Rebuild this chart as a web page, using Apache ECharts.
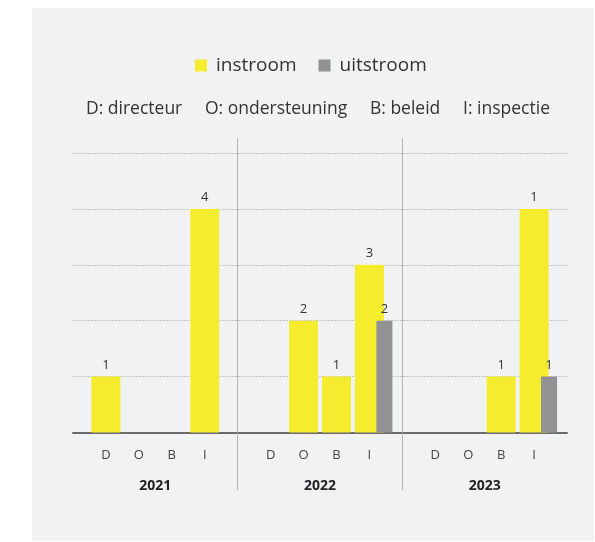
<!DOCTYPE html>
<html>
<head>
<meta charset="utf-8">
<script src="https://cdn.jsdelivr.net/npm/echarts@6/dist/echarts.min.js"></script>
<style>
  html, body { margin: 0; padding: 0; background: #fff; }
  #main { width: 595px; height: 542px; }
</style>
</head>
<body>
<div id="main"></div>
<script>
// data
var years = ['2021', '2022', '2023'];
var roles = ['D', 'O', 'B', 'I'];
var keyLabels = ['D: directeur', 'O: ondersteuning', 'B: beleid', 'I: inspectie'];
// per year: D, O, B, I
var instroom = [1, null, null, 4,   null, 2, 1, 3,   null, null, 1, 4];
var uitstroom = [null, null, null, null,   null, null, null, 2,   null, null, null, 1];
// labels as printed above the bars
var instroomLabels = ['1', '', '', '4',   '', '2', '1', '3',   '', '', '1', '1'];

var font = '"Open Sans", "Noto Sans", sans-serif';

// one empty slot before each year and one at the end, so the year borders fall on a slot
function pad(arr, empty) {
    var out = [];
    for (var g = 0; g < years.length; g++) {
        out.push(empty);
        for (var i = 0; i < roles.length; i++) {
            var v = arr[g * roles.length + i];
            out.push(v == null ? empty : v);
        }
    }
    out.push(empty);
    return out;
}
var cats = pad(roles.concat(roles, roles), '');
var instData = pad(instroom, '-');
var uitData = pad(uitstroom, '-');
var instLab = pad(instroomLabels, '');
var emptyData = pad([], '-');

function isBorder(idx) {
    return idx === 5 || idx === 10;
}

var myChart = echarts.init(document.getElementById('main'));

var option = {
    backgroundColor: '#fff',
    textStyle: { fontFamily: font },
    graphic: [{
        type: 'rect',
        left: 32, top: 8,
        shape: { width: 562, height: 533 },
        style: { fill: '#f1f2f4' },
        z: -10
    }],
    title: {
        text: keyLabels.join('     '),
        left: 86,
        top: 100,
        padding: 0,
        textStyle: { fontFamily: font, fontSize: 17.5, fontWeight: 'normal', color: '#333' }
    },
    legend: {
        data: ['instroom', 'uitstroom'],
        left: 195,
        top: 56,
        padding: 0,
        icon: 'rect',
        itemWidth: 12,
        itemHeight: 12,
        itemGap: 22,
        textStyle: { fontFamily: font, fontSize: 19, color: '#333', padding: [0, 0, 0, 4] }
    },
    grid: { left: 73, right: 28, top: 153, bottom: 109.5 },
    xAxis: [
        {
            type: 'category',
            data: cats,
            boundaryGap: false,
            position: 'bottom',
            axisLine: { lineStyle: { color: '#6b6b6b', width: 2 } },
            axisTick: { show: true, interval: isBorder, length: 58, lineStyle: { color: '#b5b5b5', width: 1 } },
            axisLabel: { interval: 0, margin: 16, color: '#444', fontSize: 13, fontFamily: font },
            splitLine: { show: true, interval: isBorder, lineStyle: { color: '#b5b5b5', width: 1 } }
        },
        {
            type: 'category',
            data: cats,
            boundaryGap: false,
            position: 'top',
            axisLine: { show: false },
            axisTick: { show: true, interval: isBorder, length: 15, lineStyle: { color: '#b5b5b5', width: 1 } },
            axisLabel: { show: false },
            splitLine: { show: false }
        },
        {
            type: 'category',
            data: years,
            boundaryGap: true,
            position: 'bottom',
            axisLine: { show: false },
            axisTick: { show: false },
            axisLabel: { margin: 47, color: '#222', fontSize: 14, fontWeight: 'bold', fontFamily: font },
            splitLine: { show: false }
        },
        {
            type: 'category',
            data: cats,
            boundaryGap: false,
            position: 'bottom',
            show: false
        }
    ],
    yAxis: {
        type: 'value',
        min: 0,
        max: 5,
        interval: 1,
        axisLabel: { show: false },
        axisLine: { show: false },
        axisTick: { show: false },
        splitLine: { lineStyle: { color: '#c4c4c4', type: [2, 1], width: 1 } }
    },
    series: [
        {
            name: 'instroom',
            type: 'bar',
            xAxisIndex: 0,
            barWidth: 29,
            itemStyle: { color: '#f6ec2e' },
            label: {
                show: true,
                position: 'top',
                distance: 5,
                color: '#333',
                fontSize: 13,
                fontFamily: font,
                formatter: function (p) { return instLab[p.dataIndex]; }
            },
            data: instData
        },
        {
            // empty spacer so the grey bars sit to the right of the yellow ones
            name: 'spacer',
            type: 'bar',
            xAxisIndex: 3,
            barWidth: 30,
            barGap: '0%',
            silent: true,
            data: emptyData
        },
        {
            name: 'uitstroom',
            type: 'bar',
            xAxisIndex: 3,
            barWidth: 16,
            barGap: '0%',
            itemStyle: { color: '#929294' },
            label: {
                show: true,
                position: 'top',
                distance: 5,
                color: '#333',
                fontSize: 13,
                fontFamily: font
            },
            data: uitData
        }
    ]
};
myChart.setOption(option);
</script>
</body>
</html>
